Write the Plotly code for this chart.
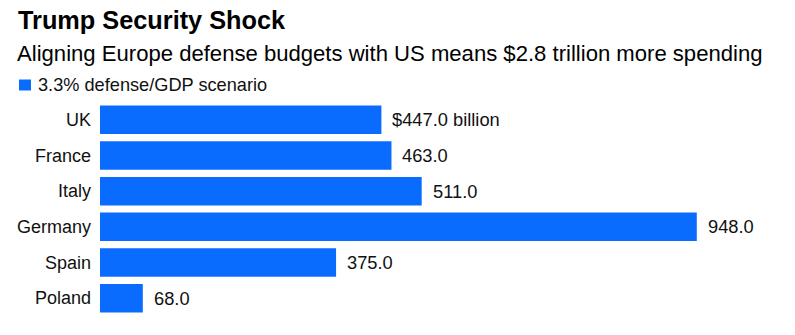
import plotly.graph_objects as go

# Data
countries = ["UK", "France", "Italy", "Germany", "Spain", "Poland"]
spending = [447.0, 463.0, 511.0, 948.0, 375.0, 68.0]
series_name = "3.3% defense/GDP scenario"
title = "Trump Security Shock"
subtitle = "Aligning Europe defense budgets with US means $2.8 trillion more spending"

BLUE = "#0A6CFF"
FONT = "Liberation Sans, Arial, sans-serif"
W, H = 795, 335
M = dict(l=100, r=34, t=102, b=19)
PW = W - M["l"] - M["r"]
PH = H - M["t"] - M["b"]


def px_x(x):
    return (x - M["l"]) / PW


def px_y(y):
    return (H - M["b"] - y) / PH


labels = [f"${v:.1f} billion" if i == 0 else f"{v:.1f}" for i, v in enumerate(spending)]

fig = go.Figure(
    go.Bar(
        x=spending,
        y=countries,
        orientation="h",
        marker=dict(color=BLUE, line=dict(width=0)),
        name=series_name,
        showlegend=False,
    )
)

annotations = [
    dict(x=v, y=c, xref="x", yref="y", text=t, showarrow=False,
         xanchor="left", yanchor="middle", xshift=9,
         font=dict(family=FONT, size=18.3, color="#111111"))
    for v, c, t in zip(spending, countries, labels)
]
annotations += [
    dict(x=px_x(16), y=px_y(20), xref="paper", yref="paper", text=f"<b>{title}</b>",
         showarrow=False, xanchor="left", yanchor="middle",
         font=dict(family=FONT, size=25.3, color="#000000")),
    dict(x=px_x(15), y=px_y(54), xref="paper", yref="paper", text=subtitle,
         showarrow=False, xanchor="left", yanchor="middle",
         font=dict(family=FONT, size=22.1, color="#000000")),
    dict(x=px_x(36), y=px_y(85), xref="paper", yref="paper", text=series_name,
         showarrow=False, xanchor="left", yanchor="middle",
         font=dict(family=FONT, size=18.2, color="#111111")),
]

fig.update_layout(
    width=W, height=H,
    margin=M,
    paper_bgcolor="white", plot_bgcolor="white",
    bargap=0.2,
    xaxis=dict(range=[0, 1050], visible=False, fixedrange=True),
    yaxis=dict(autorange="reversed", showgrid=False, zeroline=False, showline=False,
               ticks="", ticklabelstandoff=8,
               tickfont=dict(family=FONT, size=18, color="#111111")),
    annotations=annotations,
    shapes=[dict(type="rect", xref="paper", yref="paper",
                 x0=px_x(19), x1=px_x(31), y0=px_y(79.5), y1=px_y(90.5),
                 fillcolor=BLUE, line=dict(width=0))],
)

fig.write_html("out.html")
